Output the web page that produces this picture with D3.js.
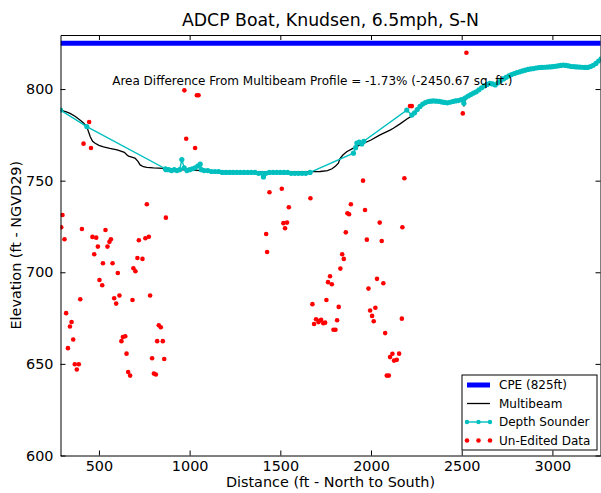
<!DOCTYPE html>
<html><head><meta charset="utf-8">
<script src="https://cdn.jsdelivr.net/npm/d3@7"></script>
<style>
html,body{margin:0;padding:0;background:#fff;}
svg{display:block;font-family:"DejaVu Sans",sans-serif;}
</style></head>
<body>
<svg id="chart" width="601" height="493"></svg>
<script>
// ---------- DATA ----------
const title = "ADCP Boat, Knudsen, 6.5mph, S-N";
const xLabel = "Distance (ft - North to South)";
const yLabel = "Elevation (ft - NGVD29)";
const annotation = "Area Difference From Multibeam Profile = -1.73% (-2450.67 sq. ft.)";
const seriesNames = ["CPE (825ft)", "Multibeam", "Depth Sounder", "Un-Edited Data"];
const xTicks = [500, 1000, 1500, 2000, 2500, 3000];
const yTicks = [600, 650, 700, 750, 800];
const cpeElevation = 825;

const multibeamDistance = [288,320,341,370,397,415,433,445,452,465,479,500,525,560,600,617,640,655,663,690,700,715,727,745,764,800,856,900,1000,1100,1200,1300,1400,1500,1600,1664,1720,1760,1785,1805,1820,1829,1845,1866,1900,1940,2000,2050,2105,2123,2160,2200,2225,2250,2300,2350,2400,2450,2505,2512,2520,2550,2600,2650,2685,2750,2800,2900,3000,3060,3120,3190,3230,3268];
const multibeamElevation = [788.5,787.5,786.7,785,783,781.5,779.4,776,774,771.5,770.4,769.3,768.5,767.6,766.8,766.3,765.5,764,763.4,762.6,762.2,760.5,758.6,757.6,757.3,757,756.7,756.3,755.8,755.4,755.1,754.9,754.8,754.8,754.8,754.9,755,755.5,756.5,758,759.5,762,764,765.8,767.6,769.5,772.2,775,777.6,778.6,781,783.8,785.3,788,792.2,793.2,792.5,793,794.2,790.5,794.6,796.8,799.8,802.8,802,806.5,808.8,811.3,812,812.9,812,811.6,813,816];

const sounderDistance = [288,433,866,870,885,900,915,930,945,957,970,985,1000,1015,1030,1045,1058,1065,1080,1100,1120,1140,1160,1180,1200,1220,1240,1260,1280,1300,1320,1340,1360,1380,1400,1407,1420,1440,1460,1480,1500,1520,1540,1560,1580,1600,1620,1640,1664,1903,1915,1922,1935,1949,1960,2197,2225,2240,2255,2270,2285,2300,2315,2330,2345,2360,2375,2390,2405,2420,2435,2450,2465,2480,2495,2506,2512,2520,2535,2550,2565,2580,2595,2610,2625,2640,2655,2670,2685,2700,2715,2730,2745,2760,2775,2790,2805,2820,2835,2850,2865,2880,2895,2910,2925,2940,2955,2970,2985,3000,3015,3030,3045,3060,3075,3090,3105,3120,3135,3150,3165,3180,3195,3210,3225,3240,3255,3268];
const sounderElevation = [788.5,779.5,756.5,756,756,755.5,756,755.5,756,761.5,757,755.5,756,756.5,757,758,759,756,755.5,755.5,755,755,755,754.5,754.5,754.5,754.5,754.5,754.5,754.5,754.5,754.5,754.5,754,754,752,754,754.5,754.5,754.5,754.5,754.5,754.5,754,754,754,754,754,754.5,765,768,770.5,771,770,771.5,788.5,785.8,787,788.8,790.5,791.8,792.6,793.2,793.4,793.5,793.4,793.3,793,792.7,792.5,792.8,793.2,793.5,793.7,794.1,794.4,792.2,795.2,796.2,797,797.8,798.5,799.6,800.7,801.7,802.5,803.1,802.8,802.2,803.4,804.6,805.5,806.4,807.2,807.9,808.5,809,809.4,809.9,810.3,810.7,811,811.2,811.5,811.7,811.8,811.9,812,812.1,812.2,812.4,812.6,812.9,813.1,812.9,812.6,812.3,812.2,812.1,812,811.9,811.8,811.8,812.3,813,814,815.3,816.5];

const rawDistance = [764,299,869,292,406,536,310,464,485,566,558,775,756,720,494,547,474,712,740,522,575,604,690,701,503,518,397,584,613,595,685,782,319,349,340,830,841,358,329,624,632,645,821,852,652,793,860,367,389,378,661,672,803,814,
 971,1040,1049,446,415,456,981,1030,1440,1508,1547,1517,1537,1526,1422,1427,1666,
 1956,2184,1889,1967,1870,1879,2048,2173,1861,1977,2059,1841,1850,1831,1774,1763,1784,2033,2068,1986,1754,1677,1822,2024,1995,2006,2015,2170,1697,1715,1725,1737,1747,1686,1710,1813,1793,1804,2078,2118,2105,2127,2142,2155,2087,2098,
 2526,2215,2225,2506];
const rawElevation = [737.1,731.3,729.8,724.6,723.6,723.1,718.0,719.3,718.9,718.0,716.6,719.4,718.6,717.5,714.0,714.0,709.8,707.8,707.3,704.9,704.9,699.6,702.2,700.6,695.8,692.9,685.3,685.8,687.3,682.9,684.9,687.3,677.7,672.9,670.4,671.1,670.0,663.3,658.6,662.4,664.7,665.1,662.4,662.4,655.6,653.1,652.7,649.8,649.8,646.9,645.6,643.6,644.7,644.2,
 799.3,796.6,796.6,782.0,770.2,767.8,772.9,767.8,743.7,745.6,735.5,726.8,727.1,724.0,720.9,711.1,740.4,
 750.0,751.3,737.1,734.0,732.2,731.7,727.1,724.6,721.8,717.8,717.1,709.8,707.3,702.0,697.8,694.6,693.5,696.4,694.0,691.1,684.9,682.6,681.1,680.6,679.1,676.2,673.3,674.7,674.4,673.5,674.0,672.2,672.5,671.8,672.8,673.8,668.6,668.6,666.8,655.5,653.7,651.8,652.2,655.6,643.6,643.6,
 819.8,790.7,790.7,786.7];

// ---------- LAYOUT ----------
const L = 60.5, R = 600.5, T = 35, B = 455.5;
const colCPE = "#0000ff", colMB = "#000000", colDS = "#00bfbf", colRaw = "#ff0000";

const svg = d3.select("#chart");
const x = d3.scaleLinear().domain([288, 3268]).range([L, R + 0.5]);
const y = d3.scaleLinear().domain([600, 829.5]).range([B, T]);

svg.append("defs").append("clipPath").attr("id", "clip")
  .append("rect").attr("x", L).attr("y", T).attr("width", R - L).attr("height", B - T);

const plot = svg.append("g").attr("clip-path", "url(#clip)");

// CPE
plot.append("line")
  .attr("x1", L).attr("x2", R + 2)
  .attr("y1", y(cpeElevation)).attr("y2", y(cpeElevation))
  .attr("stroke", colCPE).attr("stroke-width", 5);

const line = d3.line().x(d => x(d[0])).y(d => y(d[1]));

// Multibeam
plot.append("path").datum(d3.zip(multibeamDistance, multibeamElevation))
  .attr("d", line).attr("fill", "none").attr("stroke", colMB).attr("stroke-width", 1.3);

// Depth sounder
const ds = d3.zip(sounderDistance, sounderElevation);
plot.append("path").datum(ds)
  .attr("d", line).attr("fill", "none").attr("stroke", colDS).attr("stroke-width", 1.4);
plot.append("g").selectAll("circle").data(ds).join("circle")
  .attr("cx", d => x(d[0])).attr("cy", d => y(d[1])).attr("r", 2.6).attr("fill", colDS);

// Raw
plot.append("g").selectAll("circle").data(d3.zip(rawDistance, rawElevation)).join("circle")
  .attr("cx", d => x(d[0])).attr("cy", d => y(d[1])).attr("r", 2.3).attr("fill", colRaw);

// ---------- AXES ----------
const fs = 14.4;
const fmt = d3.format("d");
const gx = svg.append("g").attr("transform", `translate(0,${B})`)
  .call(d3.axisBottom(x).tickValues(xTicks).tickFormat(fmt).tickSize(-5).tickSizeOuter(0).tickPadding(5));
const gy = svg.append("g").attr("transform", `translate(${L},0)`)
  .call(d3.axisLeft(y).tickValues(yTicks).tickFormat(fmt).tickSize(-5).tickSizeOuter(0).tickPadding(7));
const gt = svg.append("g").attr("transform", `translate(0,${T})`)
  .call(d3.axisTop(x).tickValues(xTicks).tickSize(-5).tickSizeOuter(0).tickFormat(""));
const gr = svg.append("g").attr("transform", `translate(${R},0)`)
  .call(d3.axisRight(y).tickValues(yTicks).tickSize(-5).tickSizeOuter(0).tickFormat(""));
[gx, gy, gt, gr].forEach(g => {
  g.selectAll("text").attr("font-family", "DejaVu Sans").attr("font-size", fs).attr("fill", "#000");
  g.selectAll("line").attr("stroke", "#000");
  g.select(".domain").attr("stroke", "#000").attr("stroke-width", 1);
});

// Titles
svg.append("text").attr("x", (L + R) / 2).attr("y", 26).attr("text-anchor", "middle")
  .attr("font-size", 17.3).text(title);
svg.append("text").attr("x", (L + R) / 2).attr("y", 487).attr("text-anchor", "middle")
  .attr("font-size", fs).text(xLabel);
svg.append("text").attr("transform", `translate(21,${(T + B) / 2}) rotate(-90)`)
  .attr("text-anchor", "middle").attr("font-size", fs).text(yLabel);

// Annotation
svg.append("text").attr("x", x(573)).attr("y", y(802.2)).attr("font-size", 12).text(annotation);

// ---------- LEGEND ----------
const lg = svg.append("g");
lg.append("rect").attr("x", 462).attr("y", 375).attr("width", 135).attr("height", 75)
  .attr("fill", "#fff").attr("stroke", "#000").attr("stroke-width", 1);
const rowY = [385, 403.5, 422, 440.5];
const hx1 = 467, hx2 = 490, tx = 499;
lg.append("line").attr("x1", hx1).attr("x2", hx2).attr("y1", rowY[0]).attr("y2", rowY[0])
  .attr("stroke", colCPE).attr("stroke-width", 5);
lg.append("line").attr("x1", hx1).attr("x2", hx2).attr("y1", rowY[1]).attr("y2", rowY[1])
  .attr("stroke", colMB).attr("stroke-width", 1.3);
lg.append("line").attr("x1", hx1).attr("x2", hx2).attr("y1", rowY[2]).attr("y2", rowY[2])
  .attr("stroke", colDS).attr("stroke-width", 1.4);
[hx1, (hx1 + hx2) / 2, hx2].forEach(cx => {
  lg.append("circle").attr("cx", cx).attr("cy", rowY[2]).attr("r", 2.2).attr("fill", colDS);
  lg.append("circle").attr("cx", cx).attr("cy", rowY[3]).attr("r", 2.3).attr("fill", colRaw);
});
seriesNames.forEach((n, i) => {
  lg.append("text").attr("x", tx).attr("y", rowY[i]).attr("dy", "0.36em")
    .attr("font-size", 12).text(n);
});
</script>
</body></html>
